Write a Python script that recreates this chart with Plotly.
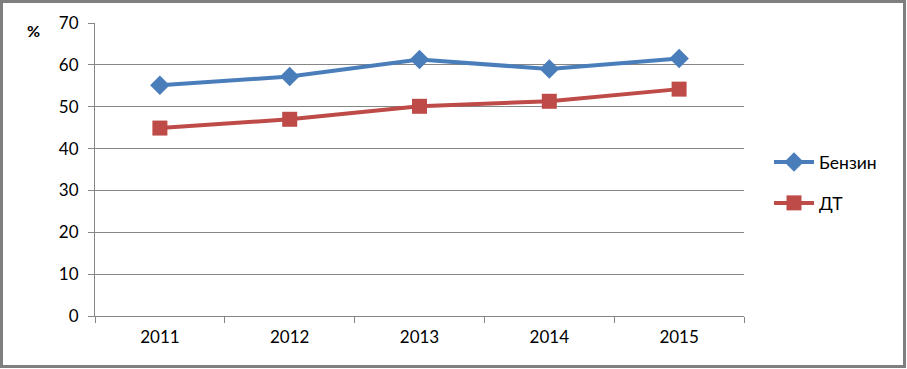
import plotly.graph_objects as go

years = ["2011", "2012", "2013", "2014", "2015"]
benzin = [55.1, 57.2, 61.3, 59.0, 61.5]
dt = [44.9, 47.0, 50.1, 51.3, 54.2]
y_ticks = [0, 10, 20, 30, 40, 50, 60, 70]

W, H = 907, 369
L, R, T, B = 95, 163, 23, 53
pw, ph = W - L - R, H - T - B

def px_x(x):
    return (x - L) / pw

def px_y(y):
    return (H - B - y) / ph

font = dict(family="Lato, Carlito, 'Open Sans', sans-serif", size=17, color="#000000")

fig = go.Figure()
fig.add_trace(go.Scatter(
    x=years, y=benzin, name="Бензин", mode="lines+markers",
    line=dict(color="#4A7EBB", width=4),
    marker=dict(symbol="diamond", size=15, color="#4A7EBB"),
    legend="legend",
))
fig.add_trace(go.Scatter(
    x=years, y=dt, name="ДТ", mode="lines+markers",
    line=dict(color="#BE4B48", width=4),
    marker=dict(symbol="square", size=15, color="#BE4B48"),
    legend="legend2",
))

fig.update_layout(
    width=W, height=H,
    margin=dict(l=L, r=R, t=T, b=B, pad=0),
    paper_bgcolor="white", plot_bgcolor="white",
    font=font,
    showlegend=True,
    legend=dict(x=px_x(769), y=px_y(162), xanchor="left", yanchor="middle",
                bgcolor="rgba(0,0,0,0)", font=dict(font, size=17.5), itemwidth=40),
    legend2=dict(x=px_x(769), y=px_y(203), xanchor="left", yanchor="middle",
                 bgcolor="rgba(0,0,0,0)", font=dict(font, size=17.5), itemwidth=40),
    xaxis=dict(
        type="category", tickson="boundaries", ticks="outside", ticklen=6,
        tickcolor="#868686", showline=True, linecolor="#868686", linewidth=1,
        showgrid=False, range=[-0.5, 4.5], tickfont=font, ticklabelstandoff=6,
    ),
    yaxis=dict(
        range=[0, 70], tickvals=y_ticks, ticks="outside", ticklen=6,
        tickcolor="#868686", showline=True, linecolor="#868686", linewidth=1,
        showgrid=True, gridcolor="#868686", gridwidth=1, zeroline=False,
        tickfont=font, ticklabelstandoff=6,
    ),
    shapes=[dict(
        type="rect", xref="paper", yref="paper",
        x0=px_x(1.5), x1=px_x(904.5), y0=px_y(366.5), y1=px_y(1.5),
        line=dict(color="#7F7F7F", width=3), fillcolor="rgba(0,0,0,0)",
        layer="below",
    )],
    annotations=[dict(
        text="<b>%</b>", xref="paper", yref="paper",
        x=px_x(34), y=px_y(31), xanchor="center", yanchor="middle",
        showarrow=False, font=dict(family=font["family"], size=16, color="#000"),
    )],
)

fig.write_html(
    "out.html",
    config={"displayModeBar": False},
    post_script="document.body.style.margin='0';document.body.style.overflow='hidden';",
)
